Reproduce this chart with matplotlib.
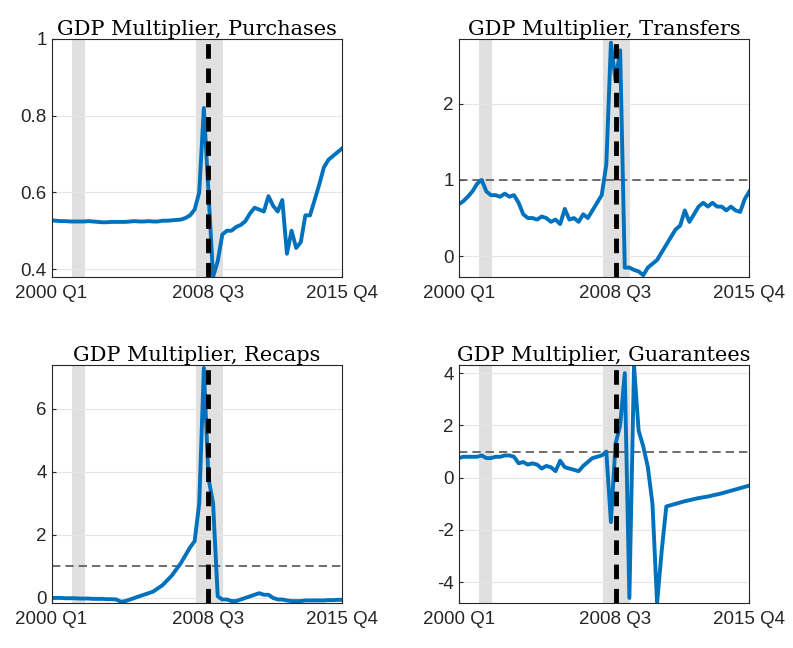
import matplotlib
matplotlib.use("Agg")
import matplotlib.pyplot as plt
import numpy as np

plt.rcParams["font.family"] = ["Liberation Sans", "DejaVu Sans"]
plt.rcParams["axes.unicode_minus"] = False

tick_labels = ["2000 Q1", "2008 Q3", "2015 Q4"]
tick_idx = [0, 34, 63]
recessions = [(4.5, 7.2), (31.3, 37.2)]
event_idx = 34

purchases = [0.527, 0.526, 0.525, 0.525, 0.524, 0.524, 0.524, 0.524, 0.525, 0.524, 0.523, 0.522,
             0.522, 0.523, 0.523, 0.523, 0.523, 0.524, 0.525, 0.524, 0.524, 0.525, 0.524, 0.524,
             0.526, 0.526, 0.527, 0.528, 0.529, 0.533, 0.54, 0.555, 0.6, 0.82, 0.6, 0.38,
             0.42, 0.49, 0.5, 0.5, 0.51, 0.515, 0.525, 0.545, 0.56, 0.555, 0.55, 0.59,
             0.565, 0.55, 0.58, 0.44, 0.5, 0.455, 0.47, 0.54, 0.54, 0.58, 0.62, 0.665,
             0.685, 0.695, 0.705, 0.715]
transfers = [0.68, 0.72, 0.78, 0.85, 0.95, 1.0, 0.85, 0.8, 0.8, 0.78, 0.82, 0.78,
             0.8, 0.7, 0.55, 0.5, 0.5, 0.48, 0.52, 0.5, 0.45, 0.48, 0.42, 0.62,
             0.48, 0.5, 0.45, 0.55, 0.5, 0.6, 0.7, 0.8, 1.2, 2.8, 2.3, 2.7,
             -0.15, -0.15, -0.18, -0.2, -0.25, -0.15, -0.1, -0.05, 0.05, 0.15, 0.25, 0.35,
             0.4, 0.6, 0.45, 0.55, 0.65, 0.7, 0.65, 0.7, 0.65, 0.65, 0.6, 0.65,
             0.6, 0.58, 0.75, 0.85]
recaps = [0.0, 0.0, 0.0, -0.01, -0.01, -0.01, -0.02, -0.02, -0.02, -0.03, -0.03, -0.03,
          -0.04, -0.04, -0.05, -0.12, -0.1, -0.05, 0.0, 0.05, 0.1, 0.15, 0.2, 0.3,
          0.4, 0.55, 0.7, 0.9, 1.1, 1.35, 1.6, 1.8, 3.0, 7.3, 3.8, 3.0,
          0.05, -0.05, -0.05, -0.1, -0.1, -0.05, 0.0, 0.05, 0.1, 0.15, 0.1, 0.1,
          0.0, -0.05, -0.05, -0.08, -0.1, -0.1, -0.1, -0.08, -0.08, -0.08, -0.08, -0.08,
          -0.07, -0.07, -0.06, -0.06]
guarantees = [0.75, 0.8, 0.8, 0.8, 0.8, 0.85, 0.75, 0.75, 0.8, 0.8, 0.85, 0.85,
              0.8, 0.55, 0.6, 0.5, 0.55, 0.5, 0.35, 0.45, 0.4, 0.25, 0.65, 0.4,
              0.35, 0.3, 0.25, 0.45, 0.6, 0.75, 0.8, 0.85, 1.0, -1.7, 1.3, 2.0,
              4.0, -4.6, 4.3, 1.8, 1.2, 0.4, -1.0, -4.8, -2.8, -1.1, -1.05, -1.0,
              -0.95, -0.9, -0.86, -0.82, -0.78, -0.75, -0.72, -0.68, -0.64, -0.6, -0.55, -0.5,
              -0.45, -0.4, -0.35, -0.3]

panels = [
    ("GDP Multiplier, Purchases", purchases, (0.38, 1.0), [0.4, 0.6, 0.8, 1], ["0.4", "0.6", "0.8", "1"]),
    ("GDP Multiplier, Transfers", transfers, (-0.27, 2.85), [0, 1, 2], None),
    ("GDP Multiplier, Recaps", recaps, (-0.15, 7.4), [0, 2, 4, 6], None),
    ("GDP Multiplier, Guarantees", guarantees, (-4.78, 4.32), [-4, -2, 0, 2, 4], None),
]

fig, axes = plt.subplots(2, 2, figsize=(7.93, 6.48), dpi=100)
fig.subplots_adjust(left=0.065, right=0.945, top=0.94, bottom=0.07, wspace=0.4, hspace=0.37)

for ax, (title, vals, ylim, yticks, ylabels) in zip(axes.flat, panels):
    x = np.arange(len(vals))
    for a, b in recessions:
        ax.axvspan(a, b, color="#e0e0e0", lw=0, zorder=0)
    ax.axhline(1, color="#555555", ls=(0, (5, 3)), lw=1.2, zorder=1)
    ax.plot(x, vals, color="#0072BD", lw=2.8, zorder=2)
    ax.axvline(event_idx, color="black", ls=(0, (3, 2)), lw=3.5, zorder=3)
    ax.set_xlim(0, len(vals) - 1)
    ax.set_ylim(*ylim)
    ax.set_yticks(yticks)
    if ylabels:
        ax.set_yticklabels(ylabels)
    ax.set_xticks(tick_idx)
    ax.set_xticklabels(tick_labels)
    ax.grid(axis="y", color="#e6e6e6", lw=0.8)
    ax.set_axisbelow(True)
    ax.tick_params(labelsize=13.5, colors="#262626", direction="in", length=3)
    ax.tick_params(axis="x", pad=6)
    ax.set_title(title, fontsize=15, family="DejaVu Serif", pad=3)
    for s in ax.spines.values():
        s.set_color("#262626")
        s.set_linewidth(0.8)

fig.savefig("out.png", dpi=100)
